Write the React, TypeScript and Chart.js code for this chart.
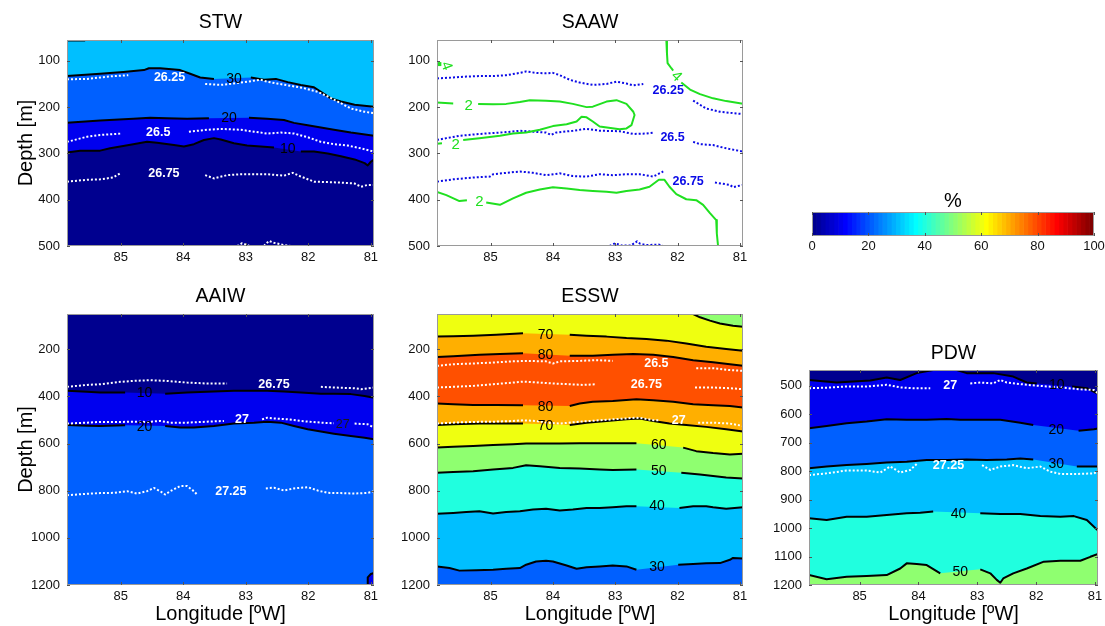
import React, { useEffect, useRef } from 'react';
import { Chart, registerables } from 'chart.js';

Chart.register(...registerables);

const FONT = "'Liberation Sans', Arial, Helvetica, sans-serif";
Chart.defaults.font.family = FONT;
Chart.defaults.color = '#000';

type P = [number, number] | null;

// ---------- axes ----------
const LON_WEST = 85.86;
const LON_EAST = 80.95;
const LON_TICKS = [85, 84, 83, 82, 81];
const TOP_ROW_DEPTH: [number, number] = [55, 500];
const TOP_ROW_TICKS = [100, 200, 300, 400, 500];
const BOTTOM_ROW_DEPTH: [number, number] = [50, 1200];
const BOTTOM_ROW_TICKS = [200, 400, 600, 800, 1000, 1200];
const PDW_DEPTH: [number, number] = [445, 1200];
const PDW_TICKS = [500, 600, 700, 800, 900, 1000, 1100, 1200];
const CBAR_RANGE: [number, number] = [0, 100];
const CBAR_TICKS = [0, 20, 40, 60, 80, 100];

// ---------- STW ----------
const STW_30: P[] = [[85.86,133],[85.33,128],[84.96,124],[84.63,120],[84.55,116],[84.37,116],[84.05,120],[83.89,128],[83.73,136],[83.51,139],null,[82.92,136],[82.71,141],[82.52,139],[82.33,146],[82.12,152],[81.91,157],[81.80,167],[81.64,181],[81.48,188],[81.26,195],[80.95,199]];
const STW_30_CORNER: P[] = [[85.86,56],[85.57,56]];
const STW_20: P[] = [[85.86,234],[85.33,229],[84.80,225],[84.53,223],[84.26,224],[83.94,225],[83.59,224],null,[82.95,223],[82.66,225],[82.39,228],[82.23,234],[82.01,239],[81.80,244],[81.59,249],[81.32,255],[80.95,262]];
const STW_10: P[] = [[85.86,298],[85.65,294],[85.33,294],[85.17,289],[84.96,284],[84.80,280],[84.58,275],[84.42,277],[84.15,282],[83.99,285],[83.83,280],[83.67,271],[83.51,267],[83.40,270],[83.19,278],[82.98,283],[82.76,285],[82.55,287],null,[82.12,296],[81.91,296],[81.69,300],[81.48,306],[81.26,313],[81.10,321],[81.05,326],[81.00,318],[80.95,313]];
const STW_2625: P[] = [[85.86,140],[85.54,139],[85.33,136],[85.12,133],[84.88,131],null,[83.65,150],[83.40,152],[83.19,149],[82.98,145],[82.76,141],[82.66,145],[82.50,149],[82.28,154],[82.07,159],[81.85,167],[81.69,177],[81.53,188],[81.32,203],[81.10,210],[80.95,213]];
const STW_265: P[] = [[85.86,275],[85.54,264],[85.33,260],[84.98,257],null,[83.91,253],[83.62,249],[83.40,247],[83.08,249],[82.87,253],[82.66,257],[82.44,255],[82.23,257],[82.01,265],[81.80,275],[81.59,280],[81.37,283],[81.16,289],[80.95,296]];
const STW_2675: P[] = [[85.86,361],[85.54,357],[85.33,356],[85.12,352],[85.01,343],null,[83.65,347],[83.51,354],[83.30,347],[83.08,345],[82.87,345],[82.66,345],[82.39,348],[82.25,342],[82.12,350],[81.91,361],[81.69,362],[81.48,363],[81.26,365],[81.16,372],[81.05,368],[80.95,368]];
const STW_27: P[] = [[83.14,500],[83.06,494],[82.95,499],null,[82.71,500],[82.63,489],[82.55,493],[82.39,498],[82.28,500]];

// ---------- SAAW ----------
const SAAW_2625: P[] = [[85.86,138],[85.60,136],[85.39,134],[85.18,133],[84.96,133],[84.75,131],[84.53,126],[84.43,123],[84.27,126],[84.11,127],[84.00,126],[83.89,131],[83.73,141],[83.57,147],[83.36,152],[83.14,150],[82.98,145],[82.82,149],[82.71,153],[82.55,150],null,[81.75,186],[81.54,203],[81.32,210],[81.11,213],[80.95,215]];
const SAAW_265: P[] = [[85.86,271],[85.71,267],[85.50,262],[85.18,258],[84.75,254],[84.53,251],[84.32,253],[84.11,255],[84.03,260],[83.95,255],[83.68,251],[83.46,247],[83.25,251],[82.93,252],[82.71,258],[82.50,257],[82.39,255],null,[81.75,275],[81.64,280],[81.43,282],[81.22,289],[80.95,296]];
const SAAW_2675: P[] = [[85.86,361],[85.60,356],[85.28,352],[85.01,350],[84.96,345],[84.75,342],[84.53,339],[84.32,342],[84.11,347],[83.89,343],[83.68,349],[83.46,350],[83.25,345],[83.04,347],[82.82,345],[82.61,345],[82.39,350],[82.23,339],null,[81.40,363],[81.16,368],[81.11,373],[80.95,368]];
const SAAW_27: P[] = [[83.09,500],[83.00,494],[82.90,499],[82.75,499],[82.65,490],[82.60,495],[82.50,498],[82.30,497],[82.23,500]];
const SAAW_4A: P[] = [[85.86,107],[85.79,107]];
const SAAW_4B: P[] = [[82.18,55],[82.17,84],[82.16,105],[82.10,116],[82.07,121],null,[81.94,147],[81.80,162],[81.64,172],[81.43,181],[81.22,187],[80.95,193]];
const SAAW_2A: P[] = [[85.86,190],[85.60,192],null,[85.20,193],[84.96,194],[84.75,193],[84.53,189],[84.37,185],[84.11,186],[83.89,188],[83.68,193],[83.46,200],[83.36,199],[83.14,188],[82.98,185],[82.82,193],[82.71,210],[82.69,217],[82.74,239],[82.82,246],[82.93,248],[83.25,242],[83.36,231],[83.46,222],[83.54,221],[83.62,231],[83.78,237],[84.00,241],[84.21,249],[84.43,255],[84.64,257],[84.85,262],[85.18,267],[85.44,271],null,[85.78,278],[85.86,279]];
const SAAW_2B: P[] = [[85.86,383],[85.71,390],[85.50,403],[85.38,401],null,[85.07,406],[84.85,411],[84.64,397],[84.43,385],[84.21,378],[84.00,373],[83.78,376],[83.57,379],[83.36,381],[83.14,383],[82.98,385],[82.82,381],[82.61,378],[82.45,372],[82.30,357],[82.21,357],[82.13,372],[82.02,388],[81.86,399],[81.70,401],[81.59,411],[81.48,429],[81.38,444],[81.37,473],[81.35,500]];

// ---------- AAIW ----------
const AAIW_10: P[] = [[85.86,376],[85.54,380],[85.33,383],[84.93,383],null,[84.29,388],[83.94,383],[83.62,380],[83.19,376],[82.87,376],[82.66,376],[82.39,379],[82.12,383],[81.80,388],[81.59,388],[81.32,390],[81.10,398],[80.95,405]];
const AAIW_20: P[] = [[85.86,521],[85.54,524],[85.33,525],[84.93,522],null,[84.29,525],[84.05,532],[83.83,532],[83.51,525],[83.19,515],[82.87,511],[82.66,507],[82.44,511],[82.23,525],[82.01,539],[81.80,549],[81.59,558],[81.32,568],[81.10,575],[80.95,582]];
const AAIW_20_CORNER: P[] = [[81.06,1200],[81.05,1168],[81.00,1153],[80.95,1149]];
const AAIW_2675: P[] = [[85.86,359],[85.54,351],[85.33,348],[85.01,338],[84.80,334],[84.53,331],[84.26,334],[83.94,341],[83.62,345],[83.30,345],null,[81.80,359],[81.59,362],[81.26,365],[81.16,369],[80.95,362]];
const AAIW_27: P[] = [[85.86,515],[85.54,511],[85.33,508],[85.01,508],[84.80,507],[84.58,508],[84.37,504],[84.21,511],[83.94,511],[83.62,507],[83.35,504],null,[82.74,497],[82.66,490],[82.55,493],[82.33,497],[82.12,504],[81.80,511],[81.59,514],null,[81.26,515],[81.05,518],[80.95,532]];
const AAIW_2725: P[] = [[85.86,819],[85.54,813],[85.33,810],[85.12,809],[84.90,802],[84.74,812],[84.58,802],[84.47,788],[84.37,802],[84.29,816],[84.21,802],[84.05,780],[83.94,780],[83.83,802],[83.78,816],null,[82.68,790],[82.55,787],[82.39,799],[82.23,790],[82.01,785],[81.85,799],[81.69,809],[81.48,810],[81.26,812],[81.05,809],[80.95,802]];

// ---------- ESSW ----------
const ESSW_60A: P[] = [[81.75,50],[81.64,64],[81.48,78],[81.32,90],[81.11,100],[80.95,104]];
const ESSW_70A: P[] = [[85.86,146],[85.60,144],[85.28,142],[84.91,138],[84.48,132],null,[83.73,138],[83.46,142],[83.14,146],[82.82,152],[82.50,156],[82.18,163],[81.86,175],[81.54,189],[81.22,199],[80.95,206]];
const ESSW_80A: P[] = [[85.86,232],[85.60,229],[85.18,223],[84.85,220],[84.48,217],null,[83.73,227],[83.36,227],[83.04,223],[82.71,220],[82.39,223],[82.07,232],[81.75,246],[81.43,255],[81.16,263],[80.95,270]];
const ESSW_80B: P[] = [[85.86,430],[85.60,433],[85.28,436],[84.91,436],[84.48,437],null,[83.73,440],[83.57,430],[83.36,422],[83.04,419],[82.66,412],[82.39,416],[82.07,422],[81.75,433],[81.43,437],[81.16,440],[80.95,447]];
const ESSW_70B: P[] = [[85.86,521],[85.60,518],[85.18,515],[84.85,515],[84.48,515],null,[83.73,521],[83.46,511],[83.14,504],[82.82,497],[82.61,493],[82.39,504],[82.13,515],[81.86,521],[81.54,529],[81.22,539],[80.95,549]];
const ESSW_60B: P[] = [[85.86,617],[85.60,613],[85.28,610],[84.96,606],[84.64,603],[84.43,600],[83.89,600],[83.57,598],[83.25,598],[83.04,599],[82.66,599],null,[81.91,617],[81.70,632],[81.43,640],[81.16,646],[80.95,643]];
const ESSW_50: P[] = [[85.86,724],[85.60,720],[85.28,717],[84.96,710],[84.64,703],[84.43,692],[84.21,696],[83.89,703],[83.57,706],[83.25,710],[83.04,712],[82.66,710],null,[81.94,724],[81.64,731],[81.43,737],[81.22,744],[80.95,748]];
const ESSW_40: P[] = [[85.86,898],[85.60,894],[85.39,890],[85.18,887],[84.96,897],[84.75,890],[84.53,887],[84.32,880],[84.11,876],[83.89,884],[83.68,880],[83.46,873],[83.25,873],[83.04,870],[82.82,866],[82.66,866],null,[81.97,873],[81.75,866],[81.54,866],[81.43,870],[81.22,876],[80.95,870]];
const ESSW_30: P[] = [[85.86,1121],[85.66,1128],[85.50,1139],[85.23,1137],[84.96,1135],[84.75,1131],[84.53,1128],[84.43,1114],[84.27,1100],[84.11,1097],[84.00,1100],[83.78,1117],[83.62,1131],[83.46,1125],[83.25,1121],[83.04,1117],[82.82,1121],[82.66,1135],null,[81.99,1114],[81.75,1111],[81.54,1108],[81.32,1107],[81.16,1093],[81.11,1085],[80.95,1088]];
const ESSW_265: P[] = [[85.86,270],[85.60,263],[85.28,260],[84.96,256],[84.64,251],[84.43,249],[84.11,251],[84.00,260],[83.89,251],[83.57,249],[83.30,246],[83.04,249],null,[81.70,280],[81.43,280],[81.16,288],[80.95,291]];
const ESSW_2675: P[] = [[85.86,362],[85.60,359],[85.28,355],[84.96,348],[84.64,341],[84.48,337],[84.21,341],[84.00,345],[83.73,348],[83.52,351],[83.30,348],null,[81.72,362],[81.43,362],[81.16,365],[80.95,369]];
const ESSW_27: P[] = [[85.86,515],[85.60,511],[85.28,508],[84.96,507],[84.64,504],[84.48,501],[84.27,504],[84.11,511],[83.89,515],[83.57,507],[83.25,501],[83.04,497],[82.82,493],[82.66,490],[82.55,493],[82.39,501],[82.29,501],null,[81.67,511],[81.43,511],[81.16,515],[80.95,525]];

// ---------- PDW ----------
const PDW_10: P[] = [[85.86,480],[85.39,489],[84.82,482],[84.54,471],[84.31,480],[84.03,456],[83.75,445],[83.35,445],[83.18,456],[82.73,456],[82.39,468],[82.16,489],[81.99,492],null,[81.39,503],[81.14,509],[80.95,529]];
const PDW_20: P[] = [[85.86,650],[85.56,642],[85.22,632],[84.88,626],[84.54,618],[84.20,620],[83.86,620],[83.52,617],[83.29,620],[82.95,620],[82.61,620],[82.27,630],[82.05,638],null,[81.28,658],[81.02,653],[80.95,650]];
const PDW_30: P[] = [[85.86,790],[85.56,784],[85.22,779],[84.88,775],[84.54,770],[84.20,767],[83.86,761],[83.52,761],[83.18,759],[82.84,761],[82.50,759],[82.27,756],[82.05,759],null,[81.31,784],[80.95,784]];
const PDW_40: P[] = [[85.86,966],[85.56,972],[85.22,960],[84.88,960],[84.54,954],[84.20,948],[83.97,946],[83.75,942],null,[82.95,948],[82.61,951],[82.27,951],[81.93,958],[81.59,960],[81.36,958],[81.14,972],[80.95,1009]];
const PDW_50: P[] = [[85.86,1165],[85.56,1180],[85.22,1171],[84.88,1168],[84.54,1165],[84.31,1142],[84.20,1124],[84.03,1126],[83.86,1130],[83.63,1159],null,[82.95,1145],[82.78,1159],[82.67,1182],[82.61,1192],[82.56,1177],[82.39,1159],[82.16,1142],[81.87,1118],[81.59,1115],[81.25,1115],[81.08,1101],[80.95,1091]];
const PDW_27: P[] = [[85.86,509],[85.56,507],[85.22,503],[84.88,503],[84.54,497],[84.31,506],[84.09,509],[83.80,509],null,[83.12,492],[82.95,489],[82.73,492],[82.61,480],[82.50,489],[82.16,497],[81.93,501],[81.59,506],[81.25,513],[81.02,515],[80.95,527]];
const PDW_2725: P[] = [[85.86,814],[85.56,808],[85.22,798],[84.88,798],[84.65,805],[84.48,784],[84.31,805],[84.14,796],[84.03,775],null,[82.92,779],[82.78,796],[82.61,784],[82.39,779],[82.16,790],[81.93,784],[81.76,802],[81.59,810],[81.31,810],[81.02,808],[80.95,800]];

// ---------- contour label positions [lon, depth] ----------
const STW_LABEL_AT = { l30: [83.19,139], l20: [83.27,224], l10: [82.33,291], i2625: [84.22,136], i265: [84.40,255], i2675: [84.31,343] };
const SAAW_LABEL_AT = { i2625: [82.15,164], i265: [82.08,265], i2675: [81.83,361], g2a: [85.35,198], g2b: [85.56,282], g2c: [85.18,404], g4a: [85.71,111], g4b: [82.02,134] };
const AAIW_LABEL_AT = { l10: [84.62,386], l20: [84.62,528], i2675: [82.55,351], i27a: [83.06,497], i27b: [81.45,521], i2725: [83.24,805] };
const ESSW_LABEL_AT = { l70a: [84.12,138], l80a: [84.12,223], l80b: [84.12,444], l70b: [84.12,525], l60: [82.30,606], l50: [82.30,717], l40: [82.33,866], l30: [82.33,1125], i265: [82.34,260], i2675: [82.50,351], i27: [81.98,504] };
const PDW_LABEL_AT = { l10: [81.65,497], l20: [81.66,656], l30: [81.66,775], l40: [83.32,951], l50: [83.29,1156], i27: [83.46,500], i2725: [83.49,782] };

// ---------- jet(64) colormap ----------
function jetU(k: number) {
  if (k < 1 || k > 47) return 0;
  if (k <= 16) return k / 16;
  if (k <= 31) return 1;
  return (48 - k) / 16;
}
function jet(j: number) {
  const r = j >= 25 ? jetU(j - 24) : 0;
  const g = jetU(j - 8);
  const b = jetU(j + 8);
  return `rgb(${Math.round(r * 255)},${Math.round(g * 255)},${Math.round(b * 255)})`;
}
const levelColor = (v: number) => jet(Math.round((v / 100) * 63) + 1);

// ---------- styles ----------
const BLACK = '#000000';
const WHITE = '#ffffff';
const SAAW_BLUE = '#0a0ae6';
const SAAW_GREEN = '#20e020';
const BLACK_LABEL = `14px ${FONT}`;
const WHITE_LABEL = `bold 12.5px ${FONT}`;
const GREEN_LABEL = `15px ${FONT}`;

interface LineSpec { pts: P[]; color: string; dash?: number[]; width?: number }
interface FillSpec { pts: P[]; color: string; corners?: [number, number][] }
interface LabelSpec { at: number[]; text: string; color: string; font: string; rot?: number }
interface Box { left: number; top: number; width: number; height: number }
interface Plot { l: number; t: number; r: number; b: number }
interface PanelSpec {
  title: string; canvas: Box; plot: Plot; titleY: number;
  depth: [number, number]; depthTicks: number[];
  base: string | null; fills: FillSpec[]; lines: LineSpec[]; labels: LabelSpec[];
  yTitle: boolean; xTitle: boolean;
}

const blk = (pts: P[]): LineSpec => ({ pts, color: BLACK, width: 2 });
const dot = (pts: P[], color = WHITE): LineSpec => ({ pts, color, width: 2, dash: [2, 2] });
const lab = (at: number[], text: string, color = BLACK, font = BLACK_LABEL, rot = 0): LabelSpec => ({ at, text, color, font, rot });
const wl = (at: number[], text: string) => lab(at, text, WHITE, WHITE_LABEL);

const PANELS: PanelSpec[] = [
  {
    title: 'STW', canvas: { left: 0, top: 0, width: 380, height: 276 }, plot: { l: 67, t: 40, r: 374, b: 246 }, titleY: 23,
    depth: TOP_ROW_DEPTH, depthTicks: TOP_ROW_TICKS, base: levelColor(30),
    fills: [{ pts: STW_30, color: levelColor(20) }, { pts: STW_20, color: levelColor(10) }, { pts: STW_10, color: levelColor(0) }],
    lines: [blk(STW_30), blk(STW_30_CORNER), blk(STW_20), blk(STW_10), dot(STW_2625), dot(STW_265), dot(STW_2675), dot(STW_27)],
    labels: [lab(STW_LABEL_AT.l30, '30'), lab(STW_LABEL_AT.l20, '20'), lab(STW_LABEL_AT.l10, '10'),
      wl(STW_LABEL_AT.i2625, '26.25'), wl(STW_LABEL_AT.i265, '26.5'), wl(STW_LABEL_AT.i2675, '26.75')],
    yTitle: true, xTitle: false,
  },
  {
    title: 'SAAW', canvas: { left: 380, top: 0, width: 380, height: 276 }, plot: { l: 437, t: 40, r: 743, b: 246 }, titleY: 23,
    depth: TOP_ROW_DEPTH, depthTicks: TOP_ROW_TICKS, base: null, fills: [],
    lines: [dot(SAAW_2625, SAAW_BLUE), dot(SAAW_265, SAAW_BLUE), dot(SAAW_2675, SAAW_BLUE), dot(SAAW_27, SAAW_BLUE),
      { pts: SAAW_4A, color: SAAW_GREEN, width: 4 }, { pts: SAAW_4B, color: SAAW_GREEN, width: 2 },
      { pts: SAAW_2A, color: SAAW_GREEN, width: 2 }, { pts: SAAW_2B, color: SAAW_GREEN, width: 2 }],
    labels: [lab(SAAW_LABEL_AT.i2625, '26.25', SAAW_BLUE, WHITE_LABEL), lab(SAAW_LABEL_AT.i265, '26.5', SAAW_BLUE, WHITE_LABEL),
      lab(SAAW_LABEL_AT.i2675, '26.75', SAAW_BLUE, WHITE_LABEL),
      lab(SAAW_LABEL_AT.g2a, '2', SAAW_GREEN, GREEN_LABEL), lab(SAAW_LABEL_AT.g2b, '2', SAAW_GREEN, GREEN_LABEL),
      lab(SAAW_LABEL_AT.g2c, '2', SAAW_GREEN, GREEN_LABEL), lab(SAAW_LABEL_AT.g4a, '4', SAAW_GREEN, GREEN_LABEL, 70),
      lab(SAAW_LABEL_AT.g4b, '4', SAAW_GREEN, GREEN_LABEL, 45)],
    yTitle: false, xTitle: false,
  },
  {
    title: 'AAIW', canvas: { left: 0, top: 280, width: 380, height: 346 }, plot: { l: 67, t: 314, r: 374, b: 585 }, titleY: 17,
    depth: BOTTOM_ROW_DEPTH, depthTicks: BOTTOM_ROW_TICKS, base: levelColor(0),
    fills: [{ pts: AAIW_10, color: levelColor(10) }, { pts: AAIW_20, color: levelColor(20) },
      { pts: AAIW_20_CORNER, color: levelColor(10), corners: [[LON_EAST, BOTTOM_ROW_DEPTH[1]]] }],
    lines: [blk(AAIW_10), blk(AAIW_20), blk(AAIW_20_CORNER), dot(AAIW_2675), dot(AAIW_27), dot(AAIW_2725)],
    labels: [lab(AAIW_LABEL_AT.l10, '10'), lab(AAIW_LABEL_AT.l20, '20'), wl(AAIW_LABEL_AT.i2675, '26.75'),
      wl(AAIW_LABEL_AT.i27a, '27'), lab(AAIW_LABEL_AT.i27b, '27', '#1a1a1a', `12.5px ${FONT}`), wl(AAIW_LABEL_AT.i2725, '27.25')],
    yTitle: true, xTitle: true,
  },
  {
    title: 'ESSW', canvas: { left: 380, top: 280, width: 380, height: 346 }, plot: { l: 437, t: 314, r: 743, b: 585 }, titleY: 17,
    depth: BOTTOM_ROW_DEPTH, depthTicks: BOTTOM_ROW_TICKS, base: levelColor(60),
    fills: [{ pts: ESSW_60A, color: levelColor(50), corners: [[LON_EAST, BOTTOM_ROW_DEPTH[0]]] },
      { pts: ESSW_70A, color: levelColor(70) }, { pts: ESSW_80A, color: levelColor(80) },
      { pts: ESSW_80B, color: levelColor(70) }, { pts: ESSW_70B, color: levelColor(60) },
      { pts: ESSW_60B, color: levelColor(50) }, { pts: ESSW_50, color: levelColor(40) },
      { pts: ESSW_40, color: levelColor(30) }, { pts: ESSW_30, color: levelColor(20) }],
    lines: [blk(ESSW_60A), blk(ESSW_70A), blk(ESSW_80A), blk(ESSW_80B), blk(ESSW_70B), blk(ESSW_60B), blk(ESSW_50),
      blk(ESSW_40), blk(ESSW_30), dot(ESSW_265), dot(ESSW_2675), dot(ESSW_27)],
    labels: [lab(ESSW_LABEL_AT.l70a, '70'), lab(ESSW_LABEL_AT.l80a, '80'), lab(ESSW_LABEL_AT.l80b, '80'),
      lab(ESSW_LABEL_AT.l70b, '70'), lab(ESSW_LABEL_AT.l60, '60'), lab(ESSW_LABEL_AT.l50, '50'),
      lab(ESSW_LABEL_AT.l40, '40'), lab(ESSW_LABEL_AT.l30, '30'),
      wl(ESSW_LABEL_AT.i265, '26.5'), wl(ESSW_LABEL_AT.i2675, '26.75'), wl(ESSW_LABEL_AT.i27, '27')],
    yTitle: false, xTitle: true,
  },
  {
    title: 'PDW', canvas: { left: 760, top: 330, width: 345, height: 296 }, plot: { l: 809, t: 370, r: 1098, b: 585 }, titleY: 23.5,
    depth: PDW_DEPTH, depthTicks: PDW_TICKS, base: levelColor(0),
    fills: [{ pts: PDW_10, color: levelColor(10) }, { pts: PDW_20, color: levelColor(20) }, { pts: PDW_30, color: levelColor(30) },
      { pts: PDW_40, color: levelColor(40) }, { pts: PDW_50, color: levelColor(50) }],
    lines: [blk(PDW_10), blk(PDW_20), blk(PDW_30), blk(PDW_40), blk(PDW_50), dot(PDW_27), dot(PDW_2725)],
    labels: [lab(PDW_LABEL_AT.l10, '10'), lab(PDW_LABEL_AT.l20, '20'), lab(PDW_LABEL_AT.l30, '30'),
      lab(PDW_LABEL_AT.l40, '40'), lab(PDW_LABEL_AT.l50, '50'), wl(PDW_LABEL_AT.i27, '27'), wl(PDW_LABEL_AT.i2725, '27.25')],
    yTitle: false, xTitle: true,
  },
];

const CBAR = { canvas: { left: 760, top: 180, width: 345, height: 80 }, plot: { l: 812, t: 212, r: 1094, b: 236 }, titleY: 21 };

const TITLE_SIZE = 19.5;
const AXIS_TITLE_SIZE = 20;
const TICK_SIZE = 13;

function framePlugin(base: string | null, labels: LabelSpec[], yTicks: boolean) {
  return {
    id: 'frame',
    beforeDatasetsDraw(chart: any) {
      const { ctx, chartArea: a } = chart;
      if (base) {
        ctx.save();
        ctx.fillStyle = base;
        ctx.fillRect(a.left, a.top, a.right - a.left, a.bottom - a.top);
        ctx.restore();
      }
    },
    afterDatasetsDraw(chart: any) {
      const { ctx, chartArea: a, scales } = chart;
      const xs = scales.x, ys = scales.y;
      labels.forEach((lb) => {
        const x = xs.getPixelForValue(lb.at[0]);
        const y = ys.getPixelForValue(lb.at[1]);
        ctx.save();
        ctx.translate(x, y);
        if (lb.rot) ctx.rotate((lb.rot * Math.PI) / 180);
        ctx.font = lb.font;
        ctx.fillStyle = lb.color;
        ctx.textAlign = 'center';
        ctx.textBaseline = 'middle';
        ctx.fillText(lb.text, 0, 0);
        ctx.restore();
      });
      ctx.save();
      ctx.strokeStyle = '#9a9a9a';
      ctx.lineWidth = 1;
      ctx.strokeRect(a.left + 0.5, a.top + 0.5, a.right - a.left - 1, a.bottom - a.top - 1);
      ctx.strokeStyle = '#555';
      ctx.beginPath();
      xs.ticks.forEach((t: any) => {
        const px = Math.round(xs.getPixelForValue(t.value)) + 0.5;
        ctx.moveTo(px, a.bottom); ctx.lineTo(px, a.bottom - 3);
        ctx.moveTo(px, a.top); ctx.lineTo(px, a.top + 3);
      });
      if (yTicks) {
        ys.ticks.forEach((t: any) => {
          const py = Math.round(ys.getPixelForValue(t.value)) + 0.5;
          ctx.moveTo(a.left, py); ctx.lineTo(a.left + 3, py);
          ctx.moveTo(a.right, py); ctx.lineTo(a.right - 3, py);
        });
      }
      ctx.stroke();
      ctx.restore();
    },
  };
}

function geometry(canvas: Box, plot: Plot, titleY: number, titleLH: number) {
  const yw = plot.l - canvas.left;
  const right = canvas.left + canvas.width - plot.r;
  const th = plot.t - canvas.top;
  const xh = canvas.top + canvas.height - plot.b;
  const pt = titleY - titleLH / 2;
  return { yw, right, th, xh, pt, pb: th - titleLH - pt };
}

function toLineData(pts: P[]) {
  let lastX = (pts.find((p) => p) as [number, number])[0];
  return pts.map((p) => {
    if (p) { lastX = p[0]; return { x: p[0], y: p[1] }; }
    return { x: lastX, y: null };
  });
}

function makePanel(el: HTMLCanvasElement, s: PanelSpec) {
  const g = geometry(s.canvas, s.plot, s.titleY, TITLE_SIZE * 1.2);
  const datasets: any[] = [];
  const total = s.fills.length + s.lines.length + 2;
  let seq = 0;
  s.fills.forEach((f) => {
    const pts = f.pts.filter((p): p is [number, number] => p !== null);
    const corners = f.corners ?? [[pts[pts.length - 1][0], s.depth[1]], [pts[0][0], s.depth[1]]];
    datasets.push({
      data: [...pts, ...corners].map(([x, y]) => ({ x, y })),
      fill: 'shape', backgroundColor: f.color, borderColor: 'rgba(0,0,0,0)', borderWidth: 0,
      pointRadius: 0, pointHoverRadius: 0, tension: 0, order: total - seq++,
    });
  });
  s.lines.forEach((l) => {
    datasets.push({
      data: toLineData(l.pts), fill: false, borderColor: l.color, borderWidth: l.width ?? 2,
      borderDash: l.dash ?? [], borderJoinStyle: 'round', pointRadius: 0, pointHoverRadius: 0,
      tension: 0, spanGaps: false, order: total - seq++,
    });
  });
  const tickFont = { size: TICK_SIZE, family: FONT };
  return new Chart(el, {
    type: 'line',
    data: { datasets },
    plugins: [framePlugin(s.base, s.labels, true)],
    options: {
      responsive: false, animation: false, devicePixelRatio: 1, events: [],
      layout: { padding: { left: 0, right: g.right, top: 0, bottom: 0 } },
      plugins: {
        legend: { display: false }, tooltip: { enabled: false },
        title: { display: true, text: s.title, fullSize: false, color: '#000',
          font: { size: TITLE_SIZE, family: FONT, weight: 'normal', lineHeight: 1.2 }, padding: { top: g.pt, bottom: g.pb } },
      },
      scales: {
        x: {
          type: 'linear', min: LON_EAST, max: LON_WEST, reverse: true,
          grid: { display: false, drawTicks: false }, border: { display: false },
          ticks: { font: tickFont, color: '#111', padding: 4, autoSkip: false, maxRotation: 0, callback: (v: any) => String(v) },
          afterBuildTicks: (sc: any) => { sc.ticks = LON_TICKS.map((v) => ({ value: v })); },
          afterFit: (sc: any) => { sc.height = g.xh; sc.paddingLeft = 0; sc.paddingRight = 0; sc.paddingTop = 0; sc.paddingBottom = 0; },
          title: { display: s.xTitle, text: 'Longitude [ºW]', color: '#000', font: { size: AXIS_TITLE_SIZE, family: FONT, lineHeight: 1.2 }, padding: { top: 0, bottom: 0 } },
        },
        y: {
          type: 'linear', min: s.depth[0], max: s.depth[1], reverse: true,
          grid: { display: false, drawTicks: false }, border: { display: false },
          ticks: { font: tickFont, color: '#111', padding: 7, autoSkip: false, callback: (v: any) => String(v) },
          afterBuildTicks: (sc: any) => { sc.ticks = s.depthTicks.map((v) => ({ value: v })); },
          afterFit: (sc: any) => { sc.width = g.yw; sc.paddingLeft = 0; sc.paddingRight = 0; sc.paddingTop = 0; sc.paddingBottom = 0; },
          title: { display: s.yTitle, text: 'Depth [m]', color: '#000', font: { size: AXIS_TITLE_SIZE, family: FONT, lineHeight: 1.2 }, padding: { top: 14, bottom: 0 } },
        },
      },
    } as any,
  });
}

function makeColorbar(el: HTMLCanvasElement) {
  const g = geometry(CBAR.canvas, CBAR.plot, CBAR.titleY, 20);
  const steps = Array.from({ length: 64 }, (_, i) => i + 1);
  const span = CBAR_RANGE[1] - CBAR_RANGE[0];
  const datasets = steps.map((j) => ({
    data: [[CBAR_RANGE[0] + ((j - 1) * span) / 64, CBAR_RANGE[0] + (j * span) / 64]],
    backgroundColor: jet(j), borderWidth: 0, grouped: false, barPercentage: 1, categoryPercentage: 1,
  }));
  return new Chart(el, {
    type: 'bar',
    data: { labels: [''], datasets },
    plugins: [framePlugin(null, [], false)],
    options: {
      indexAxis: 'y', responsive: false, animation: false, devicePixelRatio: 1, events: [],
      layout: { padding: { left: g.yw, right: g.right, top: 0, bottom: 0 } },
      plugins: {
        legend: { display: false }, tooltip: { enabled: false },
        title: { display: true, text: '%', fullSize: false, color: '#000',
          font: { size: 20, family: FONT, weight: 'normal', lineHeight: 1 }, padding: { top: g.pt, bottom: g.pb } },
      },
      scales: {
        x: {
          type: 'linear', min: CBAR_RANGE[0], max: CBAR_RANGE[1],
          grid: { display: false, drawTicks: false }, border: { display: false },
          ticks: { font: { size: TICK_SIZE, family: FONT }, color: '#111', padding: 3, autoSkip: false, maxRotation: 0, callback: (v: any) => String(v) },
          afterBuildTicks: (sc: any) => { sc.ticks = CBAR_TICKS.map((v) => ({ value: v })); },
          afterFit: (sc: any) => { sc.height = g.xh; sc.paddingLeft = 0; sc.paddingRight = 0; },
        },
        y: { type: 'category', display: false },
      },
    } as any,
  });
}

function PanelCanvas({ spec }: { spec: PanelSpec }) {
  const ref = useRef<HTMLCanvasElement>(null);
  useEffect(() => {
    const chart = makePanel(ref.current as HTMLCanvasElement, spec);
    return () => chart.destroy();
  }, [spec]);
  const c = spec.canvas;
  return <canvas ref={ref} width={c.width} height={c.height} style={{ position: 'absolute', left: c.left, top: c.top, width: c.width, height: c.height }} />;
}

function ColorbarCanvas() {
  const ref = useRef<HTMLCanvasElement>(null);
  useEffect(() => {
    const chart = makeColorbar(ref.current as HTMLCanvasElement);
    return () => chart.destroy();
  }, []);
  const c = CBAR.canvas;
  return <canvas ref={ref} width={c.width} height={c.height} style={{ position: 'absolute', left: c.left, top: c.top, width: c.width, height: c.height }} />;
}

export default function App() {
  return (
    <div style={{ position: 'absolute', left: 0, top: 0, width: 1105, height: 626, background: '#fff', overflow: 'hidden' }}>
      {PANELS.map((p) => <PanelCanvas key={p.title} spec={p} />)}
      <ColorbarCanvas />
    </div>
  );
}
